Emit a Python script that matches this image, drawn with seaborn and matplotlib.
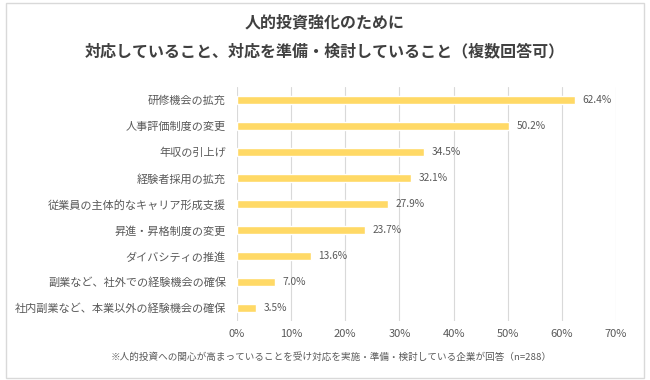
import matplotlib
matplotlib.use("Agg")
import matplotlib.pyplot as plt
import seaborn as sns
import pandas as pd
from matplotlib.patches import Rectangle

categories = [
    "研修機会の拡充",
    "人事評価制度の変更",
    "年収の引上げ",
    "経験者採用の拡充",
    "従業員の主体的なキャリア形成支援",
    "昇進・昇格制度の変更",
    "ダイバシティの推進",
    "副業など、社外での経験機会の確保",
    "社内副業など、本業以外の経験機会の確保",
]
values = [62.4, 50.2, 34.5, 32.1, 27.9, 23.7, 13.6, 7.0, 3.5]
x_ticks = [0, 10, 20, 30, 40, 50, 60, 70]
title_lines = ["人的投資強化のために", "対応していること、対応を準備・検討していること（複数回答可）"]
footnote = "※人的投資への関心が高まっていることを受け対応を実施・準備・検討している企業が回答（n=288）"

sns.set_theme(style="white")
plt.rcParams["font.family"] = ["Noto Sans CJK JP", "DejaVu Sans"]

df = pd.DataFrame({"category": categories, "value": values})

fig = plt.figure(figsize=(6.5, 3.8), dpi=100)
ax = fig.add_axes([0.3646, 0.155, 0.5831, 0.616])

sns.barplot(data=df, x="value", y="category", color="#FFD966", width=0.32,
            saturation=1, ax=ax, zorder=3)

ax.set_xlim(0, 70)
ax.set_xticks(x_ticks)
ax.set_xticklabels([f"{t}%" for t in x_ticks], fontsize=8, color="#595959")
ax.tick_params(axis="both", length=0)
ax.tick_params(axis="x", pad=6)
ax.tick_params(axis="y", pad=8)
for lbl in ax.get_yticklabels():
    lbl.set_fontsize(8.0)
    lbl.set_color("#595959")
ax.set_xlabel("")
ax.set_ylabel("")
ax.grid(axis="x", color="#D9D9D9", linewidth=0.8, zorder=0)
for s in ax.spines.values():
    s.set_visible(False)

for i, v in enumerate(values):
    ax.text(v + 1.4, i, f"{v:.1f}%", va="center", ha="left", fontsize=7.3, color="#595959")

fig.text(0.5, 0.942, title_lines[0], ha="center", va="center", fontsize=11.5,
         fontweight="bold", color="#404040")
fig.text(0.5, 0.866, title_lines[1], ha="center", va="center", fontsize=11.5,
         fontweight="bold", color="#404040")
fig.text(0.51, 0.06, footnote, ha="center", va="center", fontsize=6.9, color="#595959")

fig.patches.append(Rectangle((0.009, 0.005), 0.982, 0.988, transform=fig.transFigure,
                             fill=False, edgecolor="#D9D9D9", linewidth=1.0))

fig.savefig("out.png", dpi=100, facecolor="white")
